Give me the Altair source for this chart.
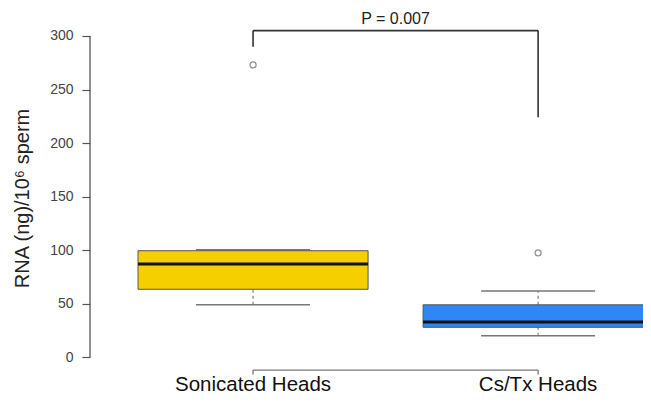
import altair as alt
import pandas as pd

# ---- data ----
groups = ["Sonicated Heads", "Cs/Tx Heads"]
lower_whisker = [49, 20]
q1 = [63.5, 28]
median = [87, 33]
q3 = [99.5, 49]
upper_whisker = [100.5, 62]
outliers = [273, 97.5]
fill_colors = ["#F5CF00", "#2F86F7"]

y_ticks = [0, 50, 100, 150, 200, 250, 300]
p_label = "P = 0.007"
bracket_top = 305
bracket_left_end = 290
bracket_right_end = 224

pos = [1, 2]
df = pd.DataFrame({
    "group": groups, "pos": pos, "lo": lower_whisker, "q1": q1,
    "med": median, "q3": q3, "hi": upper_whisker, "out": outliers,
    "color": fill_colors,
})

FONT = "Liberation Sans"
yscale = alt.Scale(domain=[-38.0, 326.1], nice=False, zero=False)
xscale = alt.Scale(domain=[0.428, 2.368], nice=False, zero=False)
BOX_HALF = 0.4035
CAP_HALF = 0.2

YAX = alt.Axis(
    values=y_ticks, domain=False, grid=False, tickSize=8, tickWidth=1.2,
    tickColor="#555555", labelColor="#444444", labelFontSize=14,
    labelFont=FONT, labelPadding=9,
    title="RNA (ng)/10⁶ sperm", titleFont=FONT, titleFontSize=20,
    titleFontWeight="normal", titleColor="#222222", titleAngle=-90,
    titleX=-68, titleY=190, titleAlign="center", titleBaseline="middle",
)


def Y(field):
    return alt.Y(field, scale=yscale, axis=YAX)


def X(field):
    return alt.X(field, scale=xscale, axis=None)


base = alt.Chart(df)

axis_line = alt.Chart(pd.DataFrame({"a": [y_ticks[0]], "b": [y_ticks[-1]]})).mark_rule(
    color="#555555", strokeWidth=1.3).encode(
    x=alt.value(0), y=Y("a:Q"), y2="b:Q")

# whiskers (dashed)
whisk_lo = base.mark_rule(color="#666666", strokeDash=[3, 3], strokeWidth=1).encode(
    x=X("pos:Q"), y=Y("lo:Q"), y2="q1:Q")
whisk_hi = base.mark_rule(color="#666666", strokeDash=[3, 3], strokeWidth=1).encode(
    x=X("pos:Q"), y=Y("q3:Q"), y2="hi:Q")

caps = base.transform_calculate(
    cl=f"datum.pos - {CAP_HALF}", cr=f"datum.pos + {CAP_HALF}")
cap_lo = caps.mark_rule(color="#777777", strokeWidth=1.5).encode(
    x=X("cl:Q"), x2="cr:Q", y=Y("lo:Q"))
cap_hi = caps.mark_rule(color="#777777", strokeWidth=1.5).encode(
    x=X("cl:Q"), x2="cr:Q", y=Y("hi:Q"))

boxes = base.transform_calculate(
    bl=f"datum.pos - {BOX_HALF}", br=f"datum.pos + {BOX_HALF}")
box = boxes.mark_bar(stroke="#555555", strokeWidth=1, clip=True).encode(
    x=X("bl:Q"), x2="br:Q", y=Y("q1:Q"), y2="q3:Q",
    fill=alt.Fill("color:N", scale=None),
)
med_line = boxes.mark_rule(color="#111111", strokeWidth=3, clip=True).encode(
    x=X("bl:Q"), x2="br:Q", y=Y("med:Q"))

outl = base.mark_point(shape="circle", filled=False, color="#666666",
                       size=36, strokeWidth=1.3).encode(
    x=X("pos:Q"), y=Y("out:Q"))

# significance bracket
br_df = pd.DataFrame({"x1": [pos[0]], "x2": [pos[1]], "top": [bracket_top],
                      "le": [bracket_left_end], "re": [bracket_right_end],
                      "label": [p_label]})
brb = alt.Chart(br_df)
br_top = brb.mark_rule(color="#333333", strokeWidth=1.6).encode(
    x=X("x1:Q"), x2="x2:Q", y=Y("top:Q"))
br_left = brb.mark_rule(color="#333333", strokeWidth=1.6).encode(
    x=X("x1:Q"), y=Y("le:Q"), y2="top:Q")
br_right = brb.mark_rule(color="#333333", strokeWidth=1.6).encode(
    x=X("x2:Q"), y=Y("re:Q"), y2="top:Q")
p_text = brb.transform_calculate(
    ty="datum.top + 11", xm="(datum.x1 + datum.x2) / 2").mark_text(
    font=FONT, fontSize=16, color="#222222", baseline="middle").encode(
    x=X("xm:Q"), y=Y("ty:Q"), text="label:N")

# bottom group line with ticks and labels
bot_df = pd.DataFrame({"x1": [pos[0]], "x2": [pos[1]], "yb": [-11.9]})
bb = alt.Chart(bot_df)
bot_line = bb.mark_rule(color="#777777", strokeWidth=1.3).encode(
    x=X("x1:Q"), x2="x2:Q", y=Y("yb:Q"))
bot_ticks = base.transform_calculate(yb="-11.9", yt="-16.0").mark_rule(
    color="#777777", strokeWidth=1.3).encode(
    x=X("pos:Q"), y=Y("yb:Q"), y2="yt:Q")
x_labels = base.transform_calculate(ly="-26").mark_text(
    font=FONT, fontSize=20.5, color="#111111", baseline="middle").encode(
    x=X("pos:Q"), y=Y("ly:Q"), text="group:N")

chart = alt.layer(
    axis_line, whisk_lo, whisk_hi, cap_lo, cap_hi, box, med_line,
    outl, br_top, br_left, br_right, p_text, bot_line, bot_ticks, x_labels,
).properties(
    width=553, height=390,
    autosize=alt.AutoSizeParams(type="none"),
    padding={"left": 82, "top": 0, "right": 0, "bottom": 0},
    background="white",
).configure_view(stroke=None)

chart.save("out.html", embed_options={"renderer": "svg", "actions": False})
